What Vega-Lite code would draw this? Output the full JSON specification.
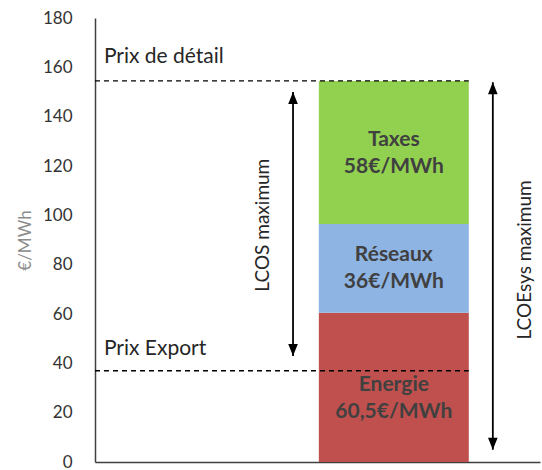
{
  "$schema": "https://vega.github.io/schema/vega-lite/v6.json",
  "width": 445,
  "height": 444,
  "autosize": {"type": "none"},
  "padding": {"left": 95, "top": 18, "right": 2, "bottom": 8},
  "background": "white",
  "config": {"view": {"stroke": null}, "font": "Lato"},
  "datasets": {
    "bars": [
      {"part": "Energie", "lo": 0, "hi": 60.5},
      {"part": "Réseaux", "lo": 60.5, "hi": 96.5},
      {"part": "Taxes", "lo": 96.5, "hi": 154.5}
    ],
    "lines": [
      {"name": "Prix de détail", "x0": 0, "x1": 84, "y": 154.5},
      {"name": "Prix Export", "x0": 0, "x1": 84, "y": 37}
    ],
    "arrows": [
      {"name": "LCOS maximum", "x": 44.5, "lo": 43, "hi": 150},
      {"name": "LCOEsys maximum", "x": 89.4, "lo": 5, "hi": 154}
    ],
    "heads": [
      {"x": 44.5, "y": 150, "dir": "up"},
      {"x": 44.5, "y": 43, "dir": "down"},
      {"x": 89.4, "y": 154, "dir": "up"},
      {"x": 89.4, "y": 5, "dir": "down"}
    ],
    "barlabels": [
      {"x": 67.15, "y": 130.5, "t": "Taxes"},
      {"x": 67.15, "y": 119.6, "t": "58€/MWh"},
      {"x": 67.15, "y": 83.9, "t": "Réseaux"},
      {"x": 67.15, "y": 73, "t": "36€/MWh"},
      {"x": 67.15, "y": 31.2, "t": "Energie"},
      {"x": 67.15, "y": 20.3, "t": "60,5€/MWh"}
    ],
    "notes": [
      {"x": 2.0, "y": 164.2, "t": "Prix de détail"},
      {"x": 2.0, "y": 45.8, "t": "Prix Export"}
    ],
    "vnotes": [
      {"x": 37.8, "y": 96, "t": "LCOS maximum"},
      {"x": 96.6, "y": 81.9, "t": "LCOEsys maximum"}
    ]
  },
  "layer": [
    {
      "data": {"name": "bars"},
      "mark": {"type": "rect"},
      "encoding": {
        "x": {"datum": 50.3, "type": "quantitative", "scale": {"domain": [0, 100]},
              "axis": {"labels": false, "ticks": false, "grid": false, "title": null, "domainColor": "#404040", "domainWidth": 1.5}},
        "x2": {"datum": 84},
        "y": {"field": "lo", "type": "quantitative", "scale": {"domain": [0, 180], "nice": false},
              "axis": {"values": [0, 20, 40, 60, 80, 100, 120, 140, 160, 180], "grid": false, "ticks": false,
                       "labelFontSize": 17, "labelColor": "#333333", "labelPadding": 23,
                       "domainColor": "#404040", "domainWidth": 1.5,
                       "title": "€/MWh", "titleFontSize": 17, "titleFontWeight": "normal", "titleColor": "#8c8c8c", "titlePadding": 8}},
        "y2": {"field": "hi"},
        "color": {"field": "part", "type": "nominal", "legend": null,
                  "scale": {"domain": ["Energie", "Réseaux", "Taxes"], "range": ["#c0504d", "#8eb4e3", "#92d050"]}}
      }
    },
    {
      "data": {"name": "lines"},
      "mark": {"type": "rule", "color": "black", "strokeDash": [5, 4], "strokeWidth": 1.3},
      "encoding": {
        "x": {"field": "x0", "type": "quantitative"},
        "x2": {"field": "x1"},
        "y": {"field": "y", "type": "quantitative"}
      }
    },
    {
      "data": {"name": "arrows"},
      "mark": {"type": "rule", "color": "black", "strokeWidth": 1.8},
      "encoding": {
        "x": {"field": "x", "type": "quantitative"},
        "y": {"field": "lo", "type": "quantitative"},
        "y2": {"field": "hi"}
      }
    },
    {
      "data": {"name": "heads"},
      "mark": {"type": "point", "filled": true, "color": "black", "opacity": 1, "size": 576},
      "encoding": {
        "x": {"field": "x", "type": "quantitative"},
        "y": {"field": "y", "type": "quantitative"},
        "shape": {"field": "dir", "type": "nominal", "legend": null,
                  "scale": {"domain": ["up", "down"], "range": ["M0,0L-0.4,1L0.4,1Z", "M0,0L-0.4,-1L0.4,-1Z"]}}
      }
    },
    {
      "data": {"name": "barlabels"},
      "mark": {"type": "text", "fontSize": 21, "fontWeight": "bold", "color": "#404040", "align": "center", "baseline": "middle"},
      "encoding": {
        "x": {"field": "x", "type": "quantitative"},
        "y": {"field": "y", "type": "quantitative"},
        "text": {"field": "t"}
      }
    },
    {
      "data": {"name": "notes"},
      "mark": {"type": "text", "fontSize": 21, "color": "#262626", "align": "left", "baseline": "middle"},
      "encoding": {
        "x": {"field": "x", "type": "quantitative"},
        "y": {"field": "y", "type": "quantitative"},
        "text": {"field": "t"}
      }
    },
    {
      "data": {"name": "vnotes"},
      "mark": {"type": "text", "fontSize": 19, "color": "#262626", "align": "center", "baseline": "middle", "angle": 270},
      "encoding": {
        "x": {"field": "x", "type": "quantitative"},
        "y": {"field": "y", "type": "quantitative"},
        "text": {"field": "t"}
      }
    }
  ]
}
